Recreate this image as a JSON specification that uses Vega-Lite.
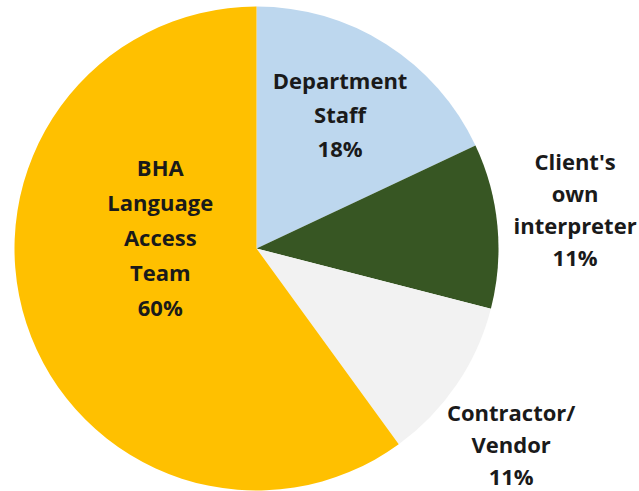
{
  "$schema": "https://vega.github.io/schema/vega-lite/v6.json",
  "autosize": "none",
  "width": 513,
  "height": 497,
  "padding": {"left": 0, "top": 0, "right": 126, "bottom": 0},
  "background": "white",
  "data": {
    "values": [
      {"idx": 1, "cat": "Department Staff", "label": "Department\nStaff\n18%", "value": 18},
      {"idx": 2, "cat": "Client's own interpreter", "label": "Client's\nown\ninterpreter\n11%", "value": 11},
      {"idx": 3, "cat": "Contractor/Vendor", "label": "Contractor/\nVendor\n11%", "value": 11},
      {"idx": 4, "cat": "BHA Language Access Team", "label": "BHA\nLanguage\nAccess\nTeam\n60%", "value": 60}
    ]
  },
  "encoding": {
    "theta": {"field": "value", "type": "quantitative", "stack": true},
    "order": {"field": "idx", "type": "quantitative"}
  },
  "layer": [
    {
      "mark": {"type": "arc", "outerRadius": 242},
      "encoding": {
        "color": {
          "field": "cat",
          "type": "nominal",
          "scale": {
            "domain": ["Department Staff", "Client's own interpreter", "Contractor/Vendor", "BHA Language Access Team"],
            "range": ["#BDD7EE", "#375623", "#F2F2F2", "#FFC000"]
          },
          "legend": null
        }
      }
    },
    {
      "mark": {
        "type": "text",
        "font": "Open Sans",
        "fontWeight": "bold",
        "fontSize": 22,
        "lineHeight": {"expr": "datum.idx == 4 ? 35 : datum.idx == 1 ? 34 : 32"},
        "lineBreak": "\n",
        "align": "center",
        "baseline": "middle",
        "color": "#1a1a1a",
        "radius": {"expr": "datum.idx == 1 ? 156 : datum.idx == 4 ? 97 : 320"},
        "dx": {"expr": "datum.idx == 4 ? -4 : datum.idx == 3 ? -10 : 0"},
        "dy": {"expr": "datum.idx == 4 ? -109 : datum.idx == 3 ? -14 : datum.idx == 2 ? -55 : -35"}
      },
      "encoding": {
        "text": {"field": "label", "type": "nominal"}
      }
    }
  ]
}
